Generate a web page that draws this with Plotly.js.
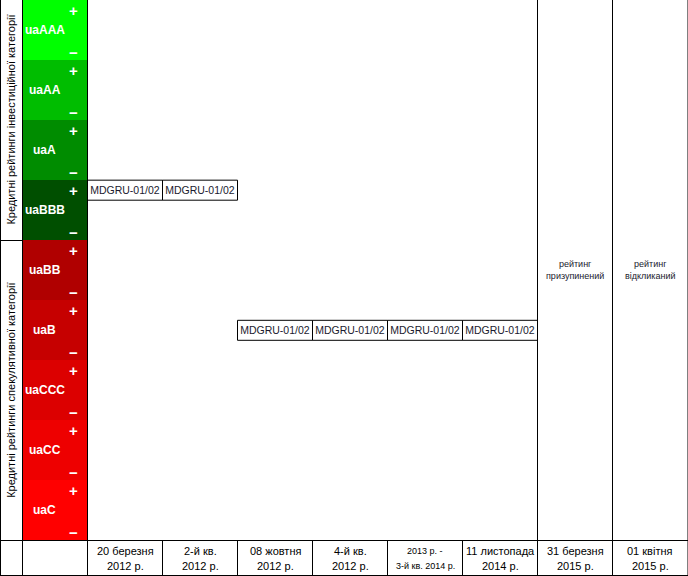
<!DOCTYPE html>
<html>
<head>
<meta charset="utf-8">
<script src="https://cdn.plot.ly/plotly-3.0.1.min.js"></script>
<style>html,body{margin:0;padding:0;background:#fff;}#chart{width:688px;height:576px;}</style>
</head>
<body>
<div id="chart"></div>
<script>
// ---- data ----
const ratings = ['uaAAA', 'uaAA', 'uaA', 'uaBBB', 'uaBB', 'uaB', 'uaCCC', 'uaCC', 'uaC'];
const ratingColors = ['#00FF00', '#00BD00', '#008C00', '#004F00', '#B00000', '#C60000', '#DC0000', '#EE0000', '#FF0000'];
const categoryLabels = ['Кредитні рейтинги інвестиційної категорії', 'Кредитні рейтинги спекулятивної категорії'];
const categorySize = [4, 5]; // number of rating bands in each category
const periodLine1 = ['20 березня', '2-й кв.', '08 жовтня', '4-й кв.', '2013 р. -', '11 листопада', '31 березня', '01 квітня'];
const periodLine2 = ['2012 р.', '2012 р.', '2012 р.', '2012 р.', '3-й кв. 2014 р.', '2014 р.', '2015 р.', '2015 р.'];
const periodSmall = [false, false, false, false, true, false, false, false];
const instrumentRating = ['uaBBB+', 'uaBBB+', 'uaB', 'uaB', 'uaB', 'uaB', null, null];
const instrumentName = 'MDGRU-01/02';
const ratingStatus = [null, null, null, null, null, null, 'рейтинг<br>призупинений', 'рейтинг<br>відкликаний'];

// ---- helpers ----
const W = 688, H = 576;
const FONT = 'Liberation Sans, Arial, sans-serif';
const nNotch = ratings.length * 3;
function notch(r) {
  let mod = 1, base = r;
  if (r.endsWith('+')) { mod = 0; base = r.slice(0, -1); }
  else if (r.endsWith('-')) { mod = 2; base = r.slice(0, -1); }
  return ratings.indexOf(base) * 3 + mod;
}
const px = x => x / W;
const py = y => 1 - y / H;

// ---- traces ----
const bandTrace = {
  type: 'bar', xaxis: 'x2', yaxis: 'y',
  x: ratings.map(() => 0.5), width: ratings.map(() => 1),
  base: ratings.map((r, i) => i * 3), y: ratings.map(() => 3),
  marker: { color: ratingColors, line: { width: 0 } },
  hoverinfo: 'skip', showlegend: false
};
const idx = [], bases = [];
instrumentRating.forEach((r, i) => { if (r) { idx.push(i + 0.5); bases.push(notch(r)); } });
const boxTrace = {
  type: 'bar', xaxis: 'x', yaxis: 'y',
  x: idx, width: idx.map(() => 1), base: bases, y: idx.map(() => 1),
  marker: { color: '#ffffff', line: { color: '#000', width: 1 } },
  text: idx.map(() => instrumentName), textposition: 'inside', insidetextanchor: 'middle',
  constraintext: 'none', textangle: 0,
  textfont: { family: FONT, size: 10.5, color: '#1a1a2e' },
  hoverinfo: 'skip', showlegend: false
};

// ---- annotations ----
const ann = [];
ratings.forEach((r, i) => {
  ann.push({ xref: 'x2', yref: 'y', x: 0.34, y: i * 3 + 1.5, text: '<b>' + r + '</b>', showarrow: false,
    font: { family: FONT, size: 12, color: '#fff' }, xanchor: 'center', yanchor: 'middle' });
  ann.push({ xref: 'x2', yref: 'y', x: 0.78, y: i * 3 + 0.5, text: '<b>+</b>', showarrow: false,
    font: { family: FONT, size: 15, color: '#fff' }, xanchor: 'center', yanchor: 'middle' });
  ann.push({ xref: 'x2', yref: 'y', x: 0.78, y: i * 3 + 2.6, text: '<b>−</b>', showarrow: false,
    font: { family: FONT, size: 15, color: '#fff' }, xanchor: 'center', yanchor: 'middle' });
});
let start = 0;
categoryLabels.forEach((lab, k) => {
  const mid = (start + categorySize[k] / 2) * 3;
  ann.push({ xref: 'paper', yref: 'y', x: px(11.5), y: mid, text: lab, textangle: -90, showarrow: false,
    font: { family: FONT, size: 11, color: '#000' }, xanchor: 'center', yanchor: 'middle' });
  start += categorySize[k];
});
periodLine1.forEach((t, i) => {
  const fs = periodSmall[i] ? 9 : 11;
  ann.push({ xref: 'x', yref: 'paper', x: i + 0.5, y: py(551), text: t, showarrow: false,
    font: { family: FONT, size: fs, color: '#000' }, xanchor: 'center', yanchor: 'middle' });
  ann.push({ xref: 'x', yref: 'paper', x: i + 0.5, y: py(566), text: periodLine2[i], showarrow: false,
    font: { family: FONT, size: fs, color: '#000' }, xanchor: 'center', yanchor: 'middle' });
});
ratingStatus.forEach((s, i) => {
  if (s) ann.push({ xref: 'x', yref: 'y', x: i + 0.5, y: nNotch / 2, text: s, showarrow: false,
    font: { family: FONT, size: 9, color: '#1a1a2e' }, xanchor: 'center', yanchor: 'middle' });
});

// ---- grid shapes ----
const L = { color: '#000', width: 1 };
const shapes = [];
const vline = (x, y0, y1) => shapes.push({ type: 'line', xref: 'paper', yref: 'paper', x0: px(x), x1: px(x), y0: py(y0), y1: py(y1), line: L });
const hline = (y, x0, x1) => shapes.push({ type: 'line', xref: 'paper', yref: 'paper', x0: px(x0), x1: px(x1), y0: py(y), y1: py(y), line: L });
vline(0.5, 0, 576); vline(22.5, 0, 576); vline(87.5, 0, 576);
hline(240.5, 0, 22.5); hline(540.5, 0, 688); hline(575.5, 0, 688);
for (let i = 1; i <= periodLine1.length; i++) {
  const full = (ratingStatus[i - 1] !== null) || (i < periodLine1.length && ratingStatus[i] !== null) || i === periodLine1.length;
  shapes.push({ type: 'line', xref: 'x', yref: 'paper', x0: i, x1: i, y0: full ? 1 : py(540.5), y1: 0, line: L });
}

const layout = {
  width: W, height: H, margin: { l: 0, r: 0, t: 0, b: 0, pad: 0 },
  paper_bgcolor: '#fff', plot_bgcolor: 'rgba(0,0,0,0)',
  barmode: 'overlay', bargap: 0, showlegend: false,
  xaxis: { domain: [px(87.5), px(687.5)], range: [0, periodLine1.length], visible: false, fixedrange: true },
  xaxis2: { domain: [px(22.5), px(87.5)], range: [0, 1], visible: false, anchor: 'y', fixedrange: true },
  yaxis: { domain: [py(540.5), 1], range: [nNotch, 0], visible: false, fixedrange: true },
  annotations: ann, shapes: shapes
};
Plotly.newPlot('chart', [bandTrace, boxTrace], layout, { staticPlot: true, displayModeBar: false });
</script>
</body>
</html>
